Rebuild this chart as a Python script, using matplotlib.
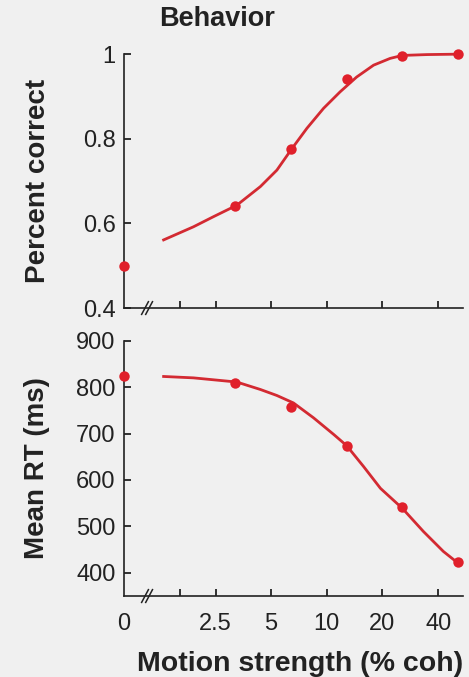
import matplotlib.pyplot as plt
import numpy as np

plt.rcParams['font.family'] = ['Liberation Sans', 'DejaVu Sans']

# motion coherence (%); 0 is drawn at a stand-in position on the log axis
coh = [0, 3.2, 6.4, 12.8, 25.6, 51.2]
zero_pos = 0.8
pc = [0.50, 0.642, 0.777, 0.942, 0.996, 1.0]
rt = [825, 808, 758, 674, 541, 423]

# fitted curves
fit_pc_coh = [1.31, 1.90, 2.44, 3.26, 4.37, 5.37, 6.48, 7.81, 9.6, 11.8, 14.5,
              17.9, 22.0, 25.6, 34.8, 51.2]
fit_pc = [0.561, 0.592, 0.616, 0.643, 0.687, 0.726, 0.777, 0.825, 0.872, 0.911,
          0.946, 0.974, 0.990, 0.997, 0.999, 1.0]
fit_rt_coh = [1.31, 1.90, 3.26, 4.37, 5.37, 6.6, 8.47, 10.9, 12.8, 15.8, 19.5,
              25.6, 33.3, 42.7, 51.2]
fit_rt = [823, 820, 811, 795, 782, 766, 734, 698, 674, 629, 582, 539, 489, 446, 421]

xticks = [zero_pos, 1.6, 2.5, 5, 10, 20, 40]
xticklabels = ['0', '', '2.5', '5', '10', '20', '40']

red = '#e0202b'
line_red = '#d32a32'
ink = '#222222'
bg = '#f0f0f0'

fig = plt.figure(figsize=(4.69, 6.77), dpi=100, facecolor=bg)
ax1 = fig.add_axes([0.2644, 0.545, 0.7228, 0.375])
ax2 = fig.add_axes([0.2644, 0.1196, 0.7228, 0.3771])

xpts = [zero_pos if c == 0 else c for c in coh]

for ax, y, fx, fy in [(ax1, pc, fit_pc_coh, fit_pc), (ax2, rt, fit_rt_coh, fit_rt)]:
    ax.set_facecolor(bg)
    ax.set_xscale('log')
    ax.plot(fx, fy, color=line_red, lw=2, clip_on=False, zorder=3,
            solid_joinstyle='round')
    ax.plot(xpts, y, 'o', color=red, ms=7.5, mec='none', clip_on=False, zorder=4)
    ax.set_xlim(zero_pos, 54.5)
    ax.spines['top'].set_visible(False)
    ax.spines['right'].set_visible(False)
    for s in ['left', 'bottom']:
        ax.spines[s].set_linewidth(1.2)
        ax.spines[s].set_color(ink)
    ax.set_xticks(xticks)
    ax.xaxis.set_minor_locator(plt.NullLocator())
    ax.tick_params(direction='in', length=5, width=1.3, colors=ink,
                   labelsize=17, pad=6)
    ax.tick_params(axis='x', length=5, pad=12)
    ax.xaxis.get_major_ticks()[0].tick1line.set_visible(False)
    # axis break marks
    for dx in [0.0, 0.012]:
        ax.plot([0.052 + dx, 0.072 + dx], [-0.025, 0.025], transform=ax.transAxes,
                color=ink, lw=1.1, clip_on=False)

ax1.set_ylim(0.4, 1.0)
ax1.set_yticks([0.4, 0.6, 0.8, 1.0])
ax1.set_yticklabels(['0.4', '0.6', '0.8', '1'])
ax1.set_xticklabels([''] * len(xticks))
ax1.set_ylabel('Percent correct', fontsize=20, fontweight='bold', color=ink, labelpad=23)
ax1.set_title('Behavior', fontsize=19.5, fontweight='bold', color=ink, x=0.274, pad=20)

ax2.set_ylim(350, 900)
ax2.set_yticks([400, 500, 600, 700, 800, 900])
ax2.set_xticklabels(xticklabels)
ax2.set_ylabel('Mean RT (ms)', fontsize=20, fontweight='bold', color=ink, labelpad=19)
ax2.set_xlabel('Motion strength (% coh)', fontsize=20.5, fontweight='bold', color=ink,
               labelpad=12, x=0.52)

fig.savefig('out.png', dpi=100, facecolor=bg)
